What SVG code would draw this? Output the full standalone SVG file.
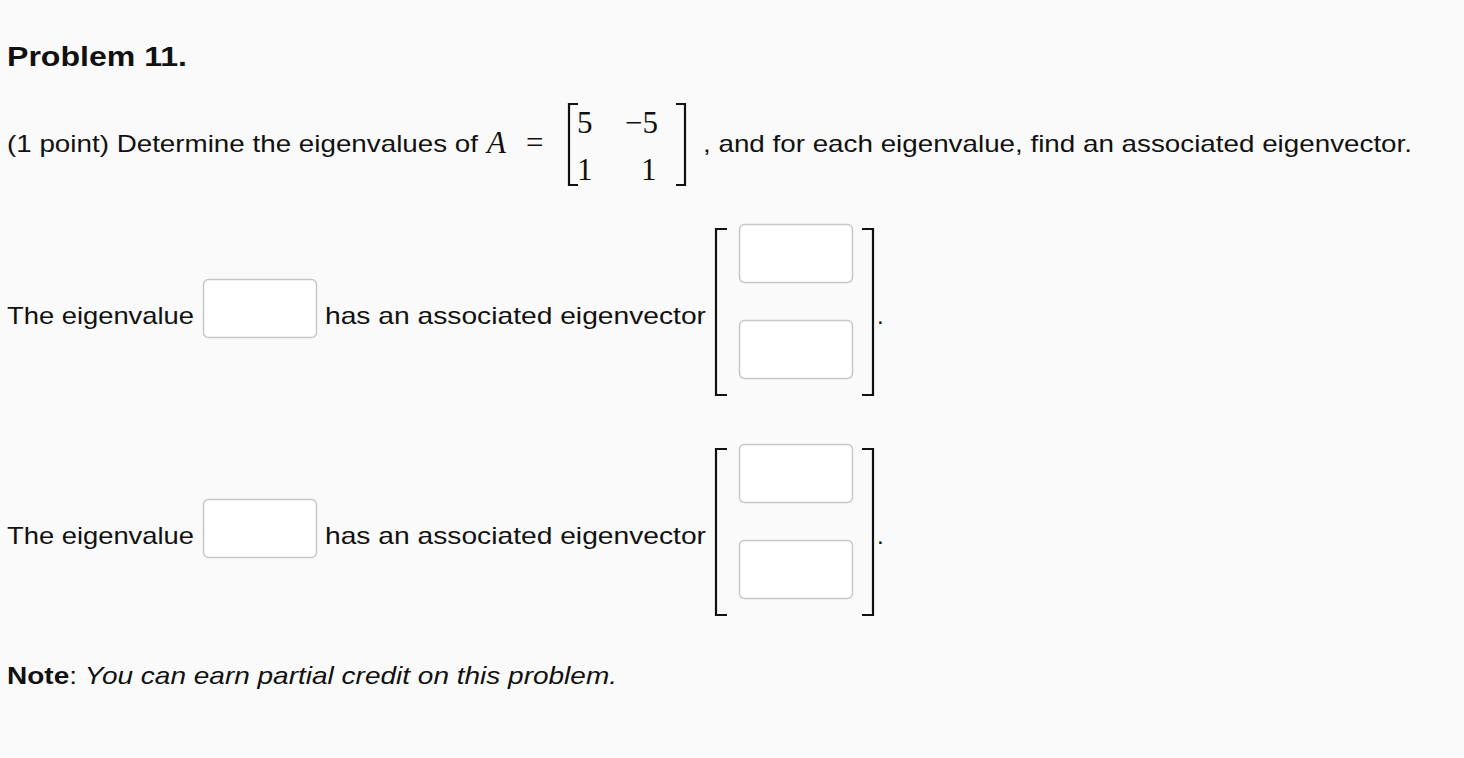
<svg xmlns="http://www.w3.org/2000/svg" width="1464" height="758" viewBox="0 0 1464 758">
<style>
.t{font-family:"Liberation Sans",Arial,sans-serif;font-size:24px;fill:#111}
.m{font-family:"Liberation Serif","Times New Roman",serif;font-size:31px;fill:#111}
.box{fill:#fff;stroke:#c8c8c8;stroke-width:1.5}
.br{fill:none;stroke:#111;stroke-width:2.2}
</style>
<rect width="1464" height="758" fill="#fafafa"/>
<text x="7" y="66" class="t" style="font-weight:bold;font-size:27px" textLength="180" lengthAdjust="spacingAndGlyphs">Problem 11.</text>
<text x="7" y="152" class="t" textLength="471" lengthAdjust="spacingAndGlyphs">(1 point) Determine the eigenvalues of</text>
<text x="487" y="153" class="m" style="font-style:italic">A</text>
<text x="526" y="153" class="m">=</text>
<path class="br" d="M578,104 H569 V185 H578 M676,104 H685 V185 H676"/>
<text x="577" y="133" class="m">5</text>
<text x="625" y="133" class="m">−5</text>
<text x="577" y="180" class="m">1</text>
<text x="641" y="180" class="m">1</text>
<text x="703" y="152" class="t" textLength="709" lengthAdjust="spacingAndGlyphs">, and for each eigenvalue, find an associated eigenvector.</text>
<g>
<text x="7" y="324" class="t" textLength="187" lengthAdjust="spacingAndGlyphs">The eigenvalue</text>
<rect class="box" x="203.5" y="279.5" width="113" height="58" rx="5"/>
<text x="325" y="324" class="t" textLength="381" lengthAdjust="spacingAndGlyphs">has an associated eigenvector</text>
<path class="br" d="M727,229 H716 V395 H727 M862,229 H873 V395 H862"/>
<rect class="box" x="739.5" y="224.5" width="113" height="58" rx="5"/>
<rect class="box" x="739.5" y="320.5" width="113" height="58" rx="5"/>
<text x="877" y="324" class="t">.</text>
</g>
<g>
<text x="7" y="544" class="t" textLength="187" lengthAdjust="spacingAndGlyphs">The eigenvalue</text>
<rect class="box" x="203.5" y="499.5" width="113" height="58" rx="5"/>
<text x="325" y="544" class="t" textLength="381" lengthAdjust="spacingAndGlyphs">has an associated eigenvector</text>
<path class="br" d="M727,449 H716 V615 H727 M862,449 H873 V615 H862"/>
<rect class="box" x="739.5" y="444.5" width="113" height="58" rx="5"/>
<rect class="box" x="739.5" y="540.5" width="113" height="58" rx="5"/>
<text x="877" y="544" class="t">.</text>
</g>
<text x="7" y="684" class="t" textLength="610" lengthAdjust="spacingAndGlyphs"><tspan font-weight="bold">Note</tspan>: <tspan font-style="italic">You can earn partial credit on this problem.</tspan></text>
</svg>
